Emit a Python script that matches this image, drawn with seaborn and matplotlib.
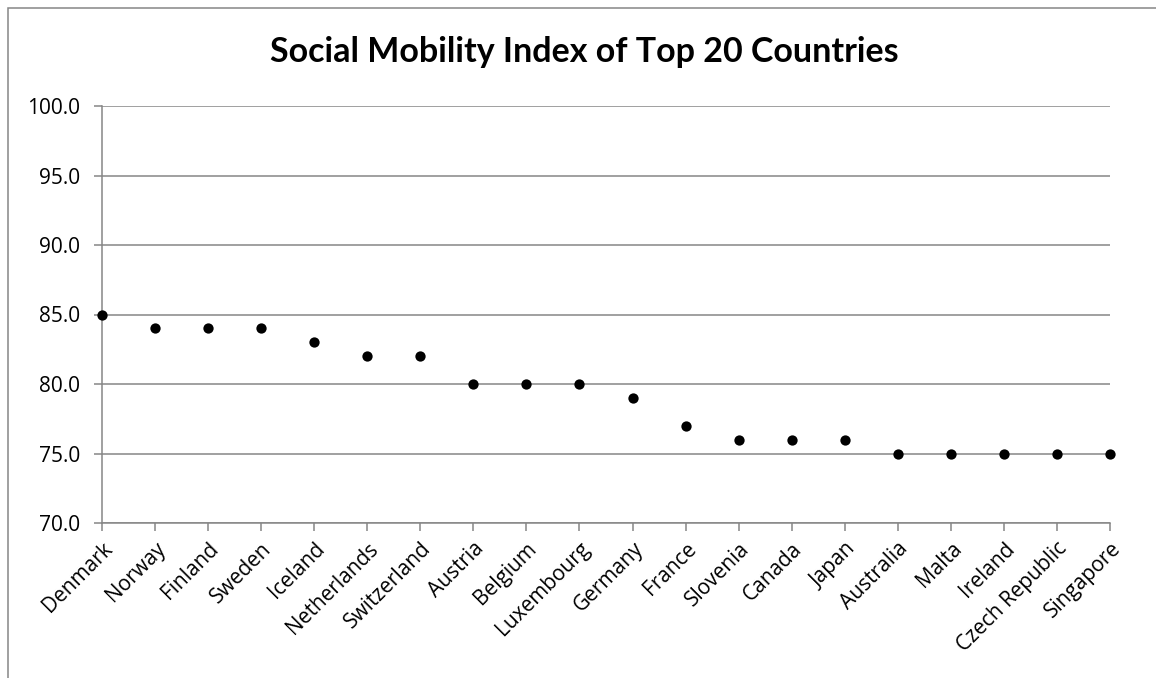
import matplotlib
matplotlib.use("Agg")
import matplotlib.pyplot as plt
import seaborn as sns
import pandas as pd
from matplotlib.patches import Rectangle

countries = ["Denmark", "Norway", "Finland", "Sweden", "Iceland", "Netherlands",
             "Switzerland", "Austria", "Belgium", "Luxembourg", "Germany", "France",
             "Slovenia", "Canada", "Japan", "Australia", "Malta", "Ireland",
             "Czech Republic", "Singapore"]
scores = [85, 84, 84, 84, 83, 82, 82, 80, 80, 80, 79, 77, 76, 76, 76, 75, 75, 75, 75, 75]
y_ticks = [70.0, 75.0, 80.0, 85.0, 90.0, 95.0, 100.0]

sns.set_theme(style="white")
plt.rcParams["font.family"] = ["Open Sans", "DejaVu Sans"]

W, H = 1156, 678
fig = plt.figure(figsize=(W / 100, H / 100), dpi=100)
ax = fig.add_axes([102 / W, 1 - 523 / H, (1110 - 102) / W, (523 - 106) / H])

df = pd.DataFrame({"country": countries, "score": scores, "pos": range(len(countries))})
sns.scatterplot(data=df, x="pos", y="score", ax=ax, color="black", s=55,
                edgecolor="black", linewidth=0, zorder=5, clip_on=False)

grid_c = "#868686"
ax.set_ylim(70, 100)
ax.set_xlim(0, len(countries) - 1)
ax.set_yticks(y_ticks)
ax.set_yticklabels([f"{v:.1f}" for v in y_ticks], fontsize=15, color="black")
ax.set_xticks(range(len(countries)))
ax.set_xticklabels(countries, rotation=45, ha="right", rotation_mode="anchor",
                   fontsize=15, color="black")
ax.yaxis.grid(True, color=grid_c, linewidth=1.1)
ax.set_axisbelow(True)
for side in ["top", "right"]:
    ax.spines[side].set_visible(False)
for side in ["left", "bottom"]:
    ax.spines[side].set_color(grid_c)
    ax.spines[side].set_linewidth(1.1)
ax.tick_params(axis="both", which="major", length=6, width=1.1, color=grid_c,
               direction="out", left=True, bottom=True)
ax.tick_params(axis="y", pad=10)
ax.tick_params(axis="x", pad=5)
ax.set_xlabel("")
ax.set_ylabel("")

fig.text(584 / W, 1 - 52 / H, "Social Mobility Index of Top 20 Countries",
         ha="center", va="center", fontsize=24.5, fontweight="bold", color="black",
         family=["Lato", "DejaVu Sans"])

# chart frame
fig.patches.append(Rectangle((7.5 / W, -0.1), 1.2, 1 - 7.5 / H + 0.1,
                             transform=fig.transFigure, fill=False,
                             edgecolor=grid_c, linewidth=1.1))

fig.savefig("out.png", dpi=100)
